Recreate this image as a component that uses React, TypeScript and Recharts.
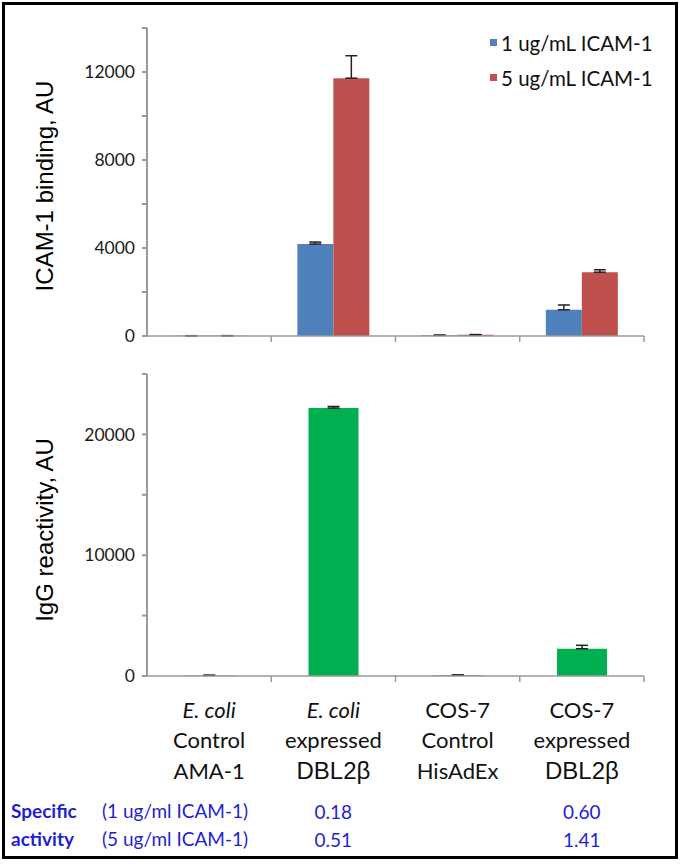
import React from 'react';
import { BarChart, Bar, XAxis, YAxis, ErrorBar, Legend, Label } from 'recharts';

// x categories, three text lines each
const groupLine1 = ['E. coli', 'E. coli', 'COS-7', 'COS-7'];
const groupLine2 = ['Control', 'expressed', 'Control', 'expressed'];
const groupLine3 = ['AMA-1', 'DBL2β', 'HisAdEx', 'DBL2β'];
const italicLine1 = [true, true, false, false];

// ICAM-1 binding (AU), upper error only
const icam1 = [8, 4180, 30, 1190];
const icam1Err = [5, 90, 10, 220];
const icam5 = [12, 11720, 55, 2900];
const icam5Err = [5, 1020, 10, 110];

// IgG reactivity (AU)
const igg = [45, 22180, 70, 2260];
const iggErr = [20, 130, 20, 280];

// specific activity rows
const activity1 = ['', '0.18', '', '0.60'];
const activity5 = ['', '0.51', '', '1.41'];

const bindingTicks = [0, 2000, 4000, 6000, 8000, 10000, 12000, 14000];
const iggTicks = [0, 5000, 10000, 15000, 20000, 25000];

const seriesNames = ['1 ug/mL ICAM-1', '5 ug/mL ICAM-1'];

const BLUE = '#4f81bd';
const RED = '#c0504d';
const GREEN = '#00b050';
const AXIS = '#9a9a9a';
const TEXT_BLUE = '#1f1fd1';
const FONT = 'Lato, "Open Sans", sans-serif';

const names = groupLine1.map((g, i) => `${g} ${groupLine2[i]} ${groupLine3[i]}`);

const bindingData = names.map((name, i) => ({
  name,
  b1: icam1[i],
  b1Err: [0, icam1Err[i]],
  b5: icam5[i],
  b5Err: [0, icam5Err[i]],
}));

const iggData = names.map((name, i) => ({
  name,
  igg: igg[i],
  iggErr: [0, iggErr[i]],
}));

const DividerTick = (props: any) => {
  const { x, y, payload } = props;
  const half = payload && payload.offset ? payload.offset : 62;
  return <line x1={x + half} x2={x + half} y1={y} y2={y + 6} stroke={AXIS} strokeWidth={1.5} />;
};

const GroupTick = (props: any) => {
  const { x, y, payload, index } = props;
  const half = payload && payload.offset ? payload.offset : 62;
  const lineStyle = { fontFamily: FONT, fontSize: 22, fill: '#111' };
  const valueStyle = { fontFamily: FONT, fontSize: 19, fill: TEXT_BLUE };
  return (
    <g>
      <line x1={x + half} x2={x + half} y1={y} y2={y + 6} stroke={AXIS} strokeWidth={1.5} />
      <text x={x} y={y + 33} textAnchor="middle" dominantBaseline="central" style={lineStyle}
        fontStyle={italicLine1[index] ? 'italic' : 'normal'}>{groupLine1[index]}</text>
      <text x={x} y={y + 63} textAnchor="middle" dominantBaseline="central" style={lineStyle}>{groupLine2[index]}</text>
      <text x={x} y={y + 94} textAnchor="middle" dominantBaseline="central"
        style={groupLine3[index].startsWith('DBL') ? { fontFamily: '"Liberation Sans", Arial, sans-serif', fontSize: 24, fill: '#111' } : lineStyle}>
        {groupLine3[index]}
      </text>
      <text x={x} y={y + 135} textAnchor="middle" dominantBaseline="central" style={valueStyle}>{activity1[index]}</text>
      <text x={x} y={y + 163} textAnchor="middle" dominantBaseline="central" style={valueStyle}>{activity5[index]}</text>
    </g>
  );
};

const yTitle = (text: string, dy: number) => (props: any) => {
  const vb = props.viewBox || { x: 0, y: 0, height: 0 };
  const cx = vb.x + 44;
  const cy = vb.y + vb.height / 2 + dy;
  return (
    <text x={cx} y={cy} transform={`rotate(-90 ${cx} ${cy})`} textAnchor="middle" dominantBaseline="central"
      style={{ fontFamily: '"Liberation Sans", Arial, sans-serif', fontSize: 24, fill: '#000' }}>
      {text}
    </text>
  );
};

const LegendBox = () => (
  <div style={{ fontFamily: FONT, fontSize: 20.5, color: '#111' }}>
    {seriesNames.map((s, i) => (
      <div key={s} style={{ display: 'flex', alignItems: 'center', height: 35 }}>
        <span style={{ width: 7, height: 7, background: i === 0 ? BLUE : RED, marginRight: 4 }} />
        <span>{s}</span>
      </div>
    ))}
  </div>
);

const yTickStyle = { fill: '#1a1a1a', fontSize: 17.5, fontFamily: FONT };

export default function App() {
  return (
    <div style={{ position: 'absolute', left: 0, top: 0, width: 680, height: 864, background: '#fff' }}>
      <div style={{ position: 'absolute', left: 2, top: 2, width: 676, height: 857, border: '3px solid #000', boxSizing: 'border-box' }} />

      <div style={{ position: 'absolute', left: 0, top: 0 }}>
        <BarChart width={680} height={345} data={bindingData} barCategoryGap="21%" barGap={0}
          margin={{ top: 28, right: 36, left: 0, bottom: 0 }}>
          <XAxis dataKey="name" height={9} stroke={AXIS} strokeWidth={1.5} tickLine={false} tickSize={0} tickMargin={0}
            tick={<DividerTick />} interval={0} />
          <YAxis width={147} domain={[0, 14000]} ticks={bindingTicks} interval={0} stroke={AXIS} strokeWidth={2}
            tickSize={5} tickMargin={7} tick={yTickStyle}
            tickFormatter={(v: number) => (v % 4000 === 0 && v !== 14000 ? String(v) : '')}>
            <Label content={yTitle('ICAM-1 binding, AU', 4)} />
          </YAxis>
          <Legend layout="vertical" align="center" verticalAlign="middle"
            wrapperStyle={{ left: 490, top: 25, width: 185 }} content={() => <LegendBox />} />
          <Bar dataKey="b1" name={seriesNames[0]} fill={BLUE} isAnimationActive={false}>
            <ErrorBar dataKey="b1Err" width={6} stroke="#222" strokeWidth={1.5} direction="y" />
          </Bar>
          <Bar dataKey="b5" name={seriesNames[1]} fill={RED} isAnimationActive={false}>
            <ErrorBar dataKey="b5Err" width={6} stroke="#222" strokeWidth={1.5} direction="y" />
          </Bar>
        </BarChart>
      </div>

      <div style={{ position: 'absolute', left: 0, top: 345 }}>
        <BarChart width={680} height={519} data={iggData} barCategoryGap="30%"
          margin={{ top: 29, right: 36, left: 0, bottom: 0 }}>
          <XAxis dataKey="name" height={188} stroke={AXIS} strokeWidth={1.5} tickLine={false} tickSize={0} tickMargin={0}
            tick={<GroupTick />} interval={0} />
          <YAxis width={147} domain={[0, 25000]} ticks={iggTicks} interval={0} stroke={AXIS} strokeWidth={2}
            tickSize={5} tickMargin={7} tick={yTickStyle}
            tickFormatter={(v: number) => (v % 10000 === 0 ? String(v) : '')}>
            <Label content={yTitle('IgG reactivity, AU', 5)} />
          </YAxis>
          <Bar dataKey="igg" fill={GREEN} isAnimationActive={false}>
            <ErrorBar dataKey="iggErr" width={6} stroke="#222" strokeWidth={1.5} direction="y" />
          </Bar>
        </BarChart>
      </div>

      <div style={{ position: 'absolute', left: 11, top: 797, fontFamily: FONT, fontSize: 19, color: TEXT_BLUE, lineHeight: '28px' }}>
        <div style={{ display: 'flex' }}>
          <span style={{ width: 91, fontWeight: 700 }}>Specific</span>
          <span>(1 ug/ml ICAM-1)</span>
        </div>
        <div style={{ display: 'flex' }}>
          <span style={{ width: 91, fontWeight: 700 }}>activity</span>
          <span>(5 ug/ml ICAM-1)</span>
        </div>
      </div>
    </div>
  );
}
